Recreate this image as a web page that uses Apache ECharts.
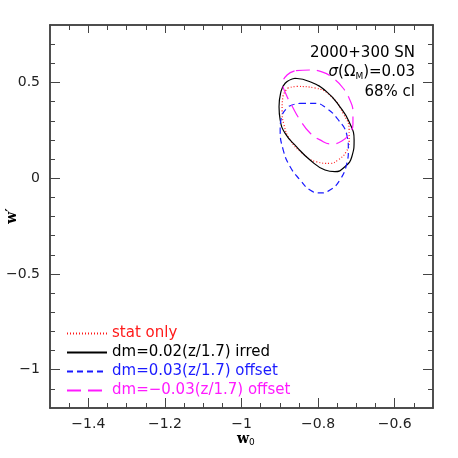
<!DOCTYPE html>
<html>
<head>
<meta charset="utf-8">
<script src="https://cdn.jsdelivr.net/npm/echarts@6/dist/echarts.min.js"></script>
<style>
  html, body { margin: 0; padding: 0; background: #fff; }
  #chart { width: 458px; height: 458px; }
</style>
</head>
<body>
<div id="chart"></div>
<script>
// contour points [w0, w']
const statOnly = [
  [-0.879, 0.471], [-0.855, 0.479], [-0.808, 0.471], [-0.764, 0.424], [-0.735, 0.340],
  [-0.719, 0.252], [-0.719, 0.189], [-0.727, 0.137], [-0.748, 0.095], [-0.769, 0.077],
  [-0.803, 0.085], [-0.842, 0.132], [-0.873, 0.200], [-0.889, 0.278], [-0.894, 0.356],
  [-0.892, 0.424]
]
const irred = [
  [-0.860, 0.522], [-0.821, 0.504], [-0.778, 0.452], [-0.743, 0.373], [-0.719, 0.295],
  [-0.706, 0.200], [-0.712, 0.112], [-0.730, 0.060], [-0.756, 0.034], [-0.782, 0.043],
  [-0.821, 0.095], [-0.856, 0.164], [-0.886, 0.234], [-0.899, 0.304], [-0.902, 0.373],
  [-0.898, 0.443], [-0.886, 0.496]
]
const offsetPlus = [
  [-0.847, 0.391], [-0.808, 0.391], [-0.778, 0.365], [-0.747, 0.304], [-0.725, 0.226],
  [-0.721, 0.147], [-0.725, 0.078], [-0.743, -0.009], [-0.769, -0.062], [-0.795, -0.077],
  [-0.821, -0.062], [-0.847, -0.009], [-0.873, 0.060], [-0.891, 0.147], [-0.899, 0.252],
  [-0.895, 0.321], [-0.882, 0.365], [-0.868, 0.382]
]
const offsetMinus = [
  [-0.858, 0.562], [-0.821, 0.565], [-0.790, 0.555], [-0.761, 0.523], [-0.735, 0.471],
  [-0.717, 0.408], [-0.709, 0.346], [-0.709, 0.283], [-0.719, 0.231], [-0.738, 0.194],
  [-0.766, 0.179], [-0.795, 0.200], [-0.821, 0.236], [-0.847, 0.304], [-0.868, 0.377],
  [-0.884, 0.440], [-0.892, 0.492], [-0.881, 0.539]
]

const seriesNames = ['stat only', 'dm=0.02(z/1.7) irred', 'dm=0.03(z/1.7) offset', 'dm=\u22120.03(z/1.7) offset']
const seriesColors = ['#ff1a1a', '#000000', '#1a1aff', '#ff1aff']

const xMajor = [-1.4, -1.2, -1, -0.8, -0.6]
const xMinor = [-1.45, -1.35, -1.3, -1.25, -1.15, -1.1, -1.05, -0.95, -0.9, -0.85, -0.75, -0.7, -0.65, -0.55]
const yMajor = [-1, -0.5, 0, 0.5]
const yMinor = [-1.1, -0.9, -0.8, -0.7, -0.6, -0.4, -0.3, -0.2, -0.1, 0.1, 0.2, 0.3, 0.4, 0.6, 0.7]

const frame = '#444'
const minus = v => String(v).replace('-', '\u2212')

function closed(pts) {
  return pts.concat([pts[0]])
}

function axis(dir, pos, ticks, len, labels) {
  const a = {
    type: 'value',
    position: pos,
    min: dir === 'x' ? -1.5 : -1.2,
    max: dir === 'x' ? -0.5 : 0.8,
    splitLine: { show: false },
    axisLine: { show: true, onZero: false, lineStyle: { color: frame, width: 1.5 } },
    axisTick: { show: true, inside: true, length: len, customValues: ticks, lineStyle: { color: frame, width: 1 } },
    axisLabel: { show: false }
  }
  if (labels) {
    a.axisLabel = {
      show: true,
      customValues: ticks,
      formatter: minus,
      color: '#222',
      fontFamily: 'DejaVu Sans',
      fontSize: 14,
      margin: dir === 'x' ? 9 : 10
    }
  }
  return a
}

const chart = echarts.init(document.getElementById('chart'))

const lineTypes = [[1, 2], 'solid', [6, 4], [14, 7]]
const data = [statOnly, irred, offsetPlus, offsetMinus]

chart.setOption({
  animation: false,
  grid: { left: 50, right: 25, top: 25, bottom: 50 },
  xAxis: [
    axis('x', 'bottom', xMajor, 10, true),
    axis('x', 'bottom', xMinor, 5, false),
    axis('x', 'top', xMajor, 8, false),
    axis('x', 'top', xMinor, 5, false)
  ],
  yAxis: [
    axis('y', 'left', yMajor, 10, true),
    axis('y', 'left', yMinor, 5, false),
    axis('y', 'right', yMajor, 10, false),
    axis('y', 'right', yMinor, 5, false)
  ],
  legend: {
    orient: 'vertical',
    left: 66,
    top: 326,
    itemWidth: 40,
    itemHeight: 12,
    itemGap: 4,
    padding: 0,
    selectedMode: false,
    itemStyle: { opacity: 0 },
    data: seriesNames.map((n, i) => ({
      name: n,
      textStyle: { color: seriesColors[i], fontFamily: 'DejaVu Sans', fontSize: 15 }
    }))
  },
  series: data.map((pts, i) => ({
    name: seriesNames[i],
    type: 'line',
    data: closed(pts),
    smooth: 0.5,
    symbol: 'none',
    lineStyle: { color: seriesColors[i], width: 1.2, type: lineTypes[i] },
    itemStyle: { color: seriesColors[i] }
  })),
  graphic: [
    {
      type: 'text', right: 43, top: 46,
      style: { text: '2000+300 SN', fill: '#000', font: '15px "DejaVu Sans"', textAlign: 'right' }
    },
    {
      type: 'text', right: 43, top: 65,
      style: {
        text: '{i|\u03c3}{a|(\u03a9}{s|M}{a|)=0.03}',
        rich: {
          i: { fontFamily: 'DejaVu Sans', fontStyle: 'italic', fontSize: 15, fill: '#000', lineHeight: 17 },
          a: { fontFamily: 'DejaVu Sans', fontSize: 15, fill: '#000', lineHeight: 17 },
          s: { fontFamily: 'DejaVu Sans', fontSize: 9, fill: '#000', lineHeight: 17, verticalAlign: 'bottom', padding: [6, 0, 0, 0] }
        }
      }
    },
    {
      type: 'text', right: 43, top: 85,
      style: { text: '68% cl', fill: '#000', font: '15px "DejaVu Sans"' }
    },
    {
      type: 'text', left: 237, top: 432,
      style: {
        text: '{a|w}{s|0}',
        rich: {
          a: { fontFamily: 'DejaVu Serif', fontSize: 14, fontWeight: 'bold', fill: '#000', lineHeight: 16 },
          s: { fontFamily: 'DejaVu Sans', fontSize: 9, fill: '#000', lineHeight: 16, verticalAlign: 'bottom', padding: [6, 0, 0, 0] }
        }
      }
    },
    {
      type: 'text', x: 12, y: 216, rotation: Math.PI / 2,
      style: { text: 'w\u2032', fill: '#000', font: 'bold 14px "DejaVu Serif"', textAlign: 'center', textVerticalAlign: 'middle' }
    }
  ]
})
</script>
</body>
</html>
